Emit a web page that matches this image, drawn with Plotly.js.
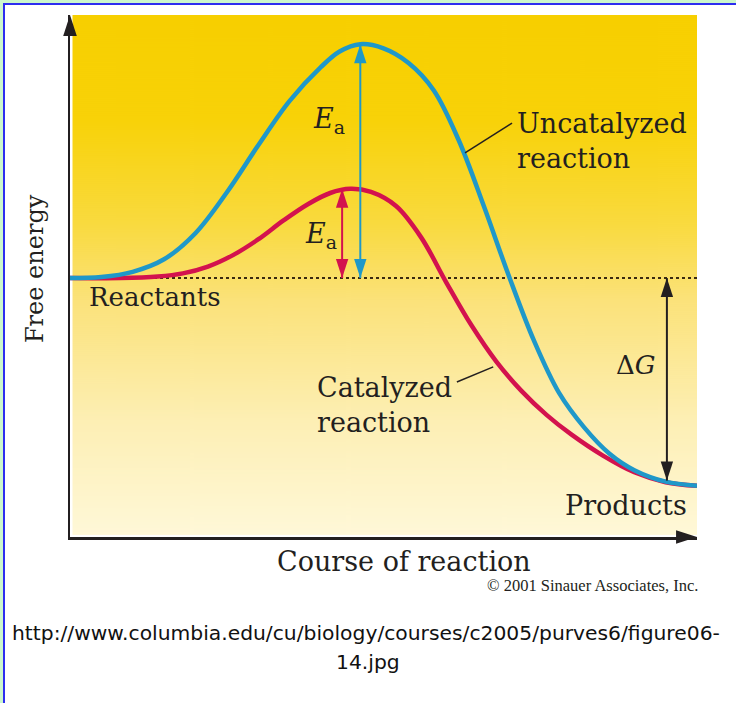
<!DOCTYPE html>
<html>
<head>
<meta charset="utf-8">
<script src="https://cdn.plot.ly/plotly-3.0.1.min.js"></script>
<style>
  html, body { margin: 0; padding: 0; }
  body { width: 736px; height: 703px; background: #ccf7cc; position: relative; overflow: hidden; }
  #frame { position: absolute; left: 3px; top: 3px; width: 740px; height: 710px;
           border-left: 2px solid #2d2df0; border-top: 2px solid #2d2df0; background: #ffffff; }
  #chart { position: absolute; left: 0; top: 0; width: 736px; height: 703px; }
</style>
</head>
<body>
<div id="frame"></div>
<div id="chart"></div>
<script>
// ---- data (schematic units: x = course of reaction 0..100, y = free energy 0..100) ----
const uncatX = [0, 5, 10, 15, 20, 25, 30, 35, 40, 43, 46.3, 50, 54, 58, 62, 66, 70, 74, 78, 82, 86, 90, 95, 100];
const uncatY = [49.6, 49.8, 50.8, 53.2, 58.2, 66.0, 75.0, 83.5, 90.0, 93.0, 94.4, 93.6, 90.8, 85.6, 76.0, 63.4, 50.0, 37.6, 27.6, 21.0, 16.0, 12.8, 10.6, 9.8];
const catX = [0, 8, 14, 18, 22, 26, 30, 34, 38, 41.5, 44.7, 48, 52, 56, 60, 64, 68, 72, 76, 80, 85, 90, 95, 100];
const catY = [49.6, 49.6, 49.9, 50.5, 51.8, 54.0, 57.0, 60.6, 63.8, 65.9, 66.7, 66.1, 63.4, 57.4, 48.8, 40.6, 33.6, 28.0, 23.4, 19.6, 15.6, 12.4, 10.5, 9.8];
const reactantLevel = 49.6;
const productLevel = 9.8;
const uncatPeak = {x: 46.3, y: 94.4};
const catPeak = {x: 43.4, y: 66.7};
const deltaGx = 95.2;

const BLUE = '#1f98c9';
const RED = '#d3124e';
const INK = '#231f20';
const SERIF = 'DejaVu Serif, serif';

// gradient background image for the plot area
function gradientURL() {
  const c = document.createElement('canvas');
  c.width = 8; c.height = 520;
  const g = c.getContext('2d');
  const grd = g.createLinearGradient(0, 0, 0, 520);
  grd.addColorStop(0.00, '#f7cf00');
  grd.addColorStop(0.20, '#f8d208');
  grd.addColorStop(0.40, '#f9da3e');
  grd.addColorStop(0.55, '#fbe27a');
  grd.addColorStop(0.78, '#fdefb4');
  grd.addColorStop(1.00, '#fff8d8');
  g.fillStyle = grd; g.fillRect(0, 0, 8, 520);
  return c.toDataURL('image/png');
}

// double-headed vertical arrow drawn as a line trace with arrow markers at its ends
function arrowTrace(x, yLow, yHigh, color, width, size) {
  return { x: [x, x], y: [yLow, yHigh], mode: 'lines+markers', cliponaxis: false, hoverinfo: 'skip',
    line: {color: color, width: width},
    marker: {symbol: 'arrow', angle: [180, 0], size: size, color: color, line: {width: 0}} };
}

const traces = [
  { x: [0, 100], y: [reactantLevel, reactantLevel], mode: 'lines',
    line: {color: '#3a2a10', width: 2, dash: 'dot'}, hoverinfo: 'skip' },
  { x: catX, y: catY, mode: 'lines', name: 'Catalyzed reaction',
    line: {color: RED, width: 4.5, shape: 'spline', smoothing: 1} },
  { x: uncatX, y: uncatY, mode: 'lines', name: 'Uncatalyzed reaction',
    line: {color: BLUE, width: 4.5, shape: 'spline', smoothing: 1} },
  // activation energy arrows
  arrowTrace(uncatPeak.x, reactantLevel, uncatPeak.y, BLUE, 2, 20),
  arrowTrace(catPeak.x, reactantLevel, catPeak.y, RED, 2, 20),
  // delta G arrow
  arrowTrace(deltaGx, productLevel + 1.0, reactantLevel, INK, 2, 20),
  // axis arrowheads
  { x: [0, 100], y: [100, 0], mode: 'markers', cliponaxis: false, hoverinfo: 'skip',
    marker: {symbol: 'arrow', angle: [0, 90], size: 22, color: INK, line: {width: 0}} }
];

function label(txt, x, y, size, opts) {
  return Object.assign({ text: txt, x: x, y: y, xref: 'x', yref: 'y', showarrow: false,
    font: {family: SERIF, size: size, color: INK}, xanchor: 'center', yanchor: 'middle' }, opts || {});
}

const annotations = [
  label('<i>E</i><sub>a</sub>', 41.3, 79.8, 27),
  label('<i>E</i><sub>a</sub>', 40.0, 57.8, 27),
  label('Δ<i>G</i>', 90.3, 33.0, 26),
  label('Reactants', 13.6, 45.9, 26),
  label('Products', 88.6, 6.0, 27),
  label('Uncatalyzed<br>reaction', 71.0, 75.9, 27, {xanchor: 'left', align: 'left'}),
  label('Catalyzed<br>reaction', 39.1, 25.3, 27, {xanchor: 'left', align: 'left'}),
  // axis titles & credits (paper coords)
  { text: 'Free energy', xref: 'paper', yref: 'paper', x: -0.056, y: 0.515, showarrow: false,
    textangle: -90, font: {family: SERIF, size: 24, color: INK}, xanchor: 'center', yanchor: 'middle' },
  { text: 'Course of reaction', xref: 'paper', yref: 'paper', x: 0.533, y: -0.046, showarrow: false,
    font: {family: SERIF, size: 27, color: INK}, xanchor: 'center', yanchor: 'middle' },
  { text: '© 2001 Sinauer Associates, Inc.', xref: 'paper', yref: 'paper', x: 1.005, y: -0.092, showarrow: false,
    font: {family: 'Liberation Serif, serif', size: 16.5, color: INK}, xanchor: 'right', yanchor: 'middle' },
  { text: 'http://www.columbia.edu/cu/biology/courses/c2005/purves6/figure06-', xref: 'paper', yref: 'paper',
    x: 0.472, y: -0.184, showarrow: false,
    font: {family: 'DejaVu Sans, sans-serif', size: 20.3, color: '#111'}, xanchor: 'center', yanchor: 'middle' },
  { text: '14.jpg', xref: 'paper', yref: 'paper', x: 0.475, y: -0.239, showarrow: false,
    font: {family: 'DejaVu Sans, sans-serif', size: 20.3, color: '#111'}, xanchor: 'center', yanchor: 'middle' }
];

const shapes = [
  { type: 'line', xref: 'x', yref: 'y', x0: 63.0, y0: 73.6, x1: 70.5, y1: 79.3, line: {color: INK, width: 1.5} },
  { type: 'line', xref: 'x', yref: 'y', x0: 61.7, y0: 29.7, x1: 67.5, y1: 32.6, line: {color: INK, width: 1.5} }
];

const axisStyle = {range: [0, 100], fixedrange: true, showline: true, linecolor: INK, linewidth: 2.5,
  showgrid: false, zeroline: false, showticklabels: false, ticks: ''};

const layout = {
  width: 736, height: 703,
  margin: {l: 70, r: 39, t: 15, b: 166, pad: 0},
  paper_bgcolor: 'rgba(0,0,0,0)', plot_bgcolor: 'rgba(0,0,0,0)',
  showlegend: false,
  xaxis: Object.assign({}, axisStyle),
  yaxis: Object.assign({}, axisStyle),
  images: [{ source: gradientURL(), xref: 'paper', yref: 'paper', x: 0.004, y: 1, sizex: 0.996, sizey: 0.996,
    sizing: 'stretch', xanchor: 'left', yanchor: 'top', layer: 'below' }],
  annotations: annotations,
  shapes: shapes
};

Plotly.newPlot('chart', traces, layout, {displayModeBar: false, staticPlot: true});
</script>
</body>
</html>
